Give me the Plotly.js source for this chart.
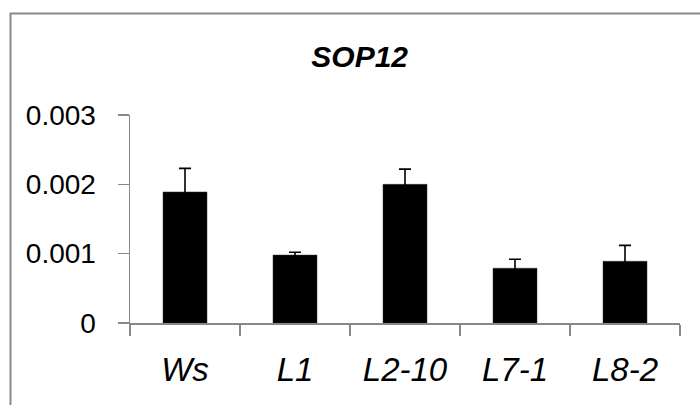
<!DOCTYPE html>
<html>
<head>
<meta charset="utf-8">
<script src="https://cdn.plot.ly/plotly-3.0.1.min.js"></script>
<style>
html,body{margin:0;padding:0;background:#fff;}
#chart{width:700px;height:405px;}
</style>
</head>
<body>
<div id="chart"></div>
<script>
const categories = ["Ws", "L1", "L2-10", "L7-1", "L8-2"];
const values = [0.00189, 0.00098, 0.00200, 0.00079, 0.00089];
const errors = [0.00034, 0.00004, 0.00022, 0.00013, 0.00023];
const yTickVals = [0, 0.001, 0.002, 0.003];
const yTickText = ["0", "0.001", "0.002", "0.003"];
const chartTitle = "SOP12";

const axisColor = "#888888";
const baseFont = "Liberation Sans, Arial, sans-serif";

const trace = {
  type: "bar",
  x: categories,
  y: values,
  width: 0.4,
  marker: {color: "#000000", line: {color: "#333333", width: 0.5}},
  error_y: {type: "data", array: errors, visible: true, color: "#000000", thickness: 1.6, width: 6},
  hoverinfo: "skip"
};

const layout = {
  width: 700,
  height: 405,
  margin: {l: 130, r: 20, t: 115, b: 82, pad: 0},
  paper_bgcolor: "#ffffff",
  plot_bgcolor: "#ffffff",
  showlegend: false,
  title: {
    text: "<b><i>" + chartTitle + "</i></b>",
    font: {family: baseFont, size: 30, color: "#000000"},
    x: 359.7 / 700, xref: "container", xanchor: "center",
    y: 1 - 56.5 / 405, yref: "container", yanchor: "middle"
  },
  xaxis: {
    type: "category",
    showline: true, linecolor: axisColor, linewidth: 1.5,
    ticks: "outside", tickson: "boundaries", ticklen: 11, tickcolor: axisColor, tickwidth: 1.5,
    showgrid: false, zeroline: false,
    tickfont: {family: baseFont, size: 33, color: "#000000", style: "italic"},
    ticklabelstandoff: 17
  },
  yaxis: {
    range: [0, 0.003],
    showline: true, linecolor: axisColor, linewidth: 1.5,
    ticks: "outside", ticklen: 11, tickcolor: axisColor, tickwidth: 1.5,
    tickvals: yTickVals, ticktext: yTickText,
    showgrid: false, zeroline: false,
    tickfont: {family: baseFont, size: 28, color: "#000000"},
    ticklabelstandoff: 16
  },
  shapes: [{
    type: "rect", xref: "paper", yref: "paper",
    x0: (10.5 - 130) / 550, x1: (720 - 130) / 550,
    y0: (323.3 - 430) / 208, y1: (323.3 - 13.7) / 208,
    line: {color: "#8a8a8a", width: 2}, fillcolor: "rgba(0,0,0,0)", layer: "below"
  }]
};

Plotly.newPlot("chart", [trace], layout, {displayModeBar: false, staticPlot: true});
</script>
</body>
</html>
